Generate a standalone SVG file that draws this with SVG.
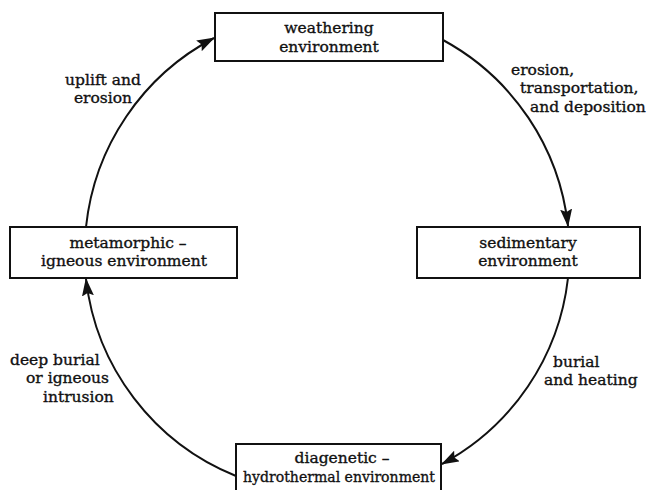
<svg xmlns="http://www.w3.org/2000/svg" width="648" height="490" viewBox="0 0 648 490">
<style>
.box{fill:#fff;stroke:#111;stroke-width:2}
.t{font-family:"DejaVu Serif","Liberation Serif",serif;font-size:15.5px;fill:#111;stroke:#111;stroke-width:0.35}
.c{text-anchor:middle}
.arc{fill:none;stroke:#111;stroke-width:2;marker-end:url(#ah)}
</style>
<defs>
<marker id="ah" markerWidth="18" markerHeight="12" refX="17" refY="6" orient="auto" markerUnits="userSpaceOnUse">
<path d="M0,0 L18,6 L0,12 L3,6 Z" fill="#111"/>
</marker>
</defs>
<rect width="648" height="490" fill="#fff"/>
<g id="connectors">
<path class="arc" d="M86,227 A242,242 0 0 1 214,38"/>
<path class="arc" d="M443,40 A242,242 0 0 1 568,226"/>
<path class="arc" d="M568,278 A242,242 0 0 1 442,464"/>
<path class="arc" d="M236,476 A242,242 0 0 1 86,279"/>
</g>
<g id="weathering">
<rect class="box" x="215" y="13" width="228" height="48"/>
<text class="t c" x="329" y="33">weathering</text>
<text class="t c" x="329" y="52">environment</text>
</g>
<g id="sedimentary">
<rect class="box" x="417" y="227" width="223" height="51"/>
<text class="t c" x="528" y="248">sedimentary</text>
<text class="t c" x="528" y="266">environment</text>
</g>
<g id="metamorphic">
<rect class="box" x="10" y="227" width="227" height="51"/>
<text class="t c" x="128" y="248">metamorphic –</text>
<text class="t c" x="124" y="266">igneous environment</text>
</g>
<g id="diagenetic">
<rect class="box" x="236" y="444" width="205" height="60"/>
<text class="t c" x="342" y="463">diagenetic –</text>
<text class="t c" x="339" y="482" textLength="192" lengthAdjust="spacingAndGlyphs">hydrothermal environment</text>
</g>
<g id="labels">
<text class="t c" x="103" y="85">uplift and</text>
<text class="t c" x="103" y="103">erosion</text>
<text class="t" x="511" y="75">erosion,</text>
<text class="t" x="520" y="93">transportation,</text>
<text class="t" x="530" y="112">and deposition</text>
<text class="t" x="10" y="365">deep burial</text>
<text class="t" x="26" y="383">or igneous</text>
<text class="t" x="43" y="402">intrusion</text>
<text class="t" x="553" y="367">burial</text>
<text class="t" x="544" y="385">and heating</text>
</g>
</svg>
